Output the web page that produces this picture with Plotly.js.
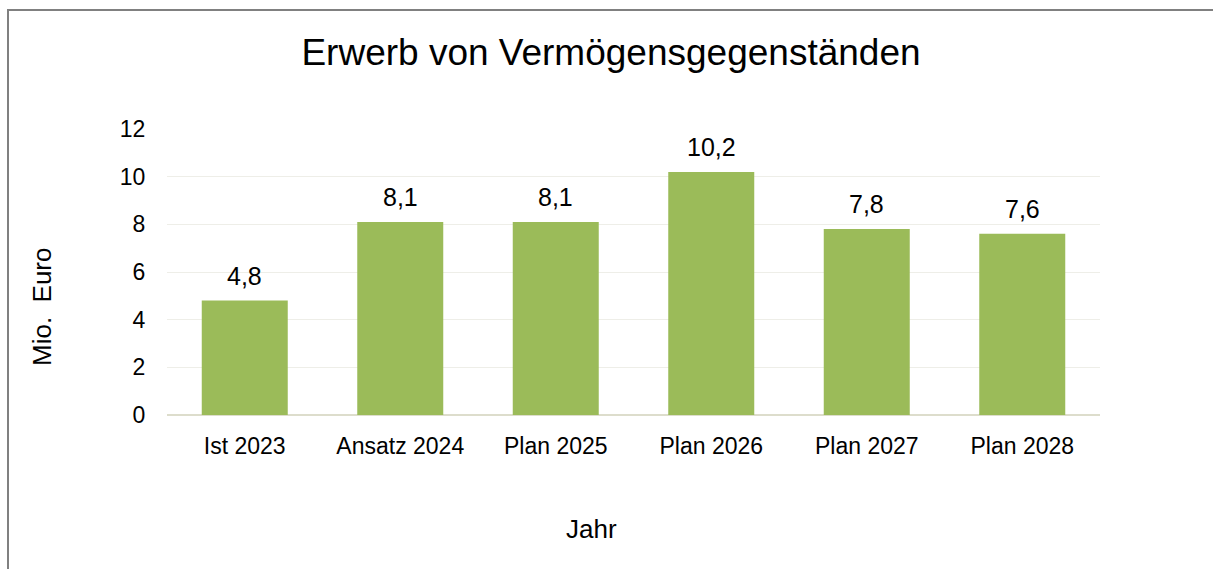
<!DOCTYPE html>
<html>
<head>
<meta charset="utf-8">
<script src="https://cdn.plot.ly/plotly-3.0.1.min.js"></script>
<style>
    body { margin: 0; background: #fff; overflow: hidden; }
    #frame { position: absolute; left: 7px; top: 9px; width: 1300px; height: 700px;
             border-left: 2px solid #808080; border-top: 2px solid #808080; }
    #chart { position: absolute; left: 0; top: 0; width: 1213px; height: 569px; }
</style>
</head>
<body>
<div id="frame"></div>
<div id="chart"></div>
<script>
// categories and values (Mio. Euro)
const categories = ["Ist 2023", "Ansatz 2024", "Plan 2025", "Plan 2026", "Plan 2027", "Plan 2028"];
const values = [4.8, 8.1, 8.1, 10.2, 7.8, 7.6];
const yTicks = [0, 2, 4, 6, 8, 10, 12];

const FONT = "Liberation Sans, Arial, sans-serif";

const traces = [{
    type: 'bar',
    x: categories,
    y: values,
    marker: { color: '#9BBB59' },
    hoverinfo: 'none',
}];

// data labels above the bars
const labels = categories.map((c, i) => ({
    x: c,
    y: values[i],
    xref: 'x', yref: 'y',
    text: values[i].toFixed(1).replace('.', ','),
    showarrow: false,
    yanchor: 'bottom',
    yshift: 9,
    font: { family: FONT, size: 25, color: '#000' },
}));

// axis titles sit a bit off-centre in the original, so they are annotations
labels.push({
    xref: 'paper', yref: 'paper', x: -0.134, y: 0.381,
    text: 'Mio.\u00A0 Euro', textangle: -90, showarrow: false,
    xanchor: 'center', yanchor: 'middle',
    font: { family: FONT, size: 26, color: '#000' },
});
labels.push({
    xref: 'paper', yref: 'paper', x: 0.4555, y: -0.399,
    text: 'Jahr', showarrow: false,
    xanchor: 'center', yanchor: 'middle',
    font: { family: FONT, size: 26, color: '#000' },
});

const layout = {
    width: 1213,
    height: 569,
    margin: { l: 167, r: 113, t: 129, b: 154, pad: 0 },
    paper_bgcolor: 'rgba(0,0,0,0)',
    plot_bgcolor: 'rgba(0,0,0,0)',
    separators: ',.',
    showlegend: false,
    bargap: 0.447,
    font: { family: FONT, color: '#000', size: 23 },
    title: {
        text: 'Erwerb von Vermögensgegenständen',
        font: { family: FONT, size: 37, color: '#000' },
        x: 611 / 1213, xanchor: 'center',
        yref: 'container', y: 1 - 52 / 569, yanchor: 'middle',
    },
    annotations: labels,
    xaxis: {
        type: 'category',
        tickfont: { family: FONT, size: 23, color: '#000' },
        ticks: 'outside', ticklen: 10, tickcolor: 'rgba(0,0,0,0)',
        showline: false,
    },
    yaxis: {
        range: [0, 12],
        tickvals: yTicks,
        tickfont: { family: FONT, size: 23, color: '#000' },
        ticks: 'outside', ticklen: 16, tickcolor: 'rgba(0,0,0,0)',
        gridcolor: '#EEEEE8',
        gridwidth: 1,
        zeroline: true,
        zerolinecolor: '#DDDDCC',
        zerolinewidth: 2,
    },
};

Plotly.newPlot('chart', traces, layout, { displayModeBar: false, staticPlot: true });
</script>
</body>
</html>
